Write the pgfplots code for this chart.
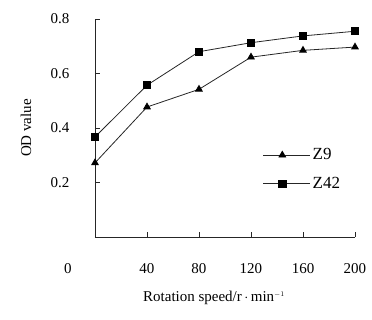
\documentclass[border=0pt]{standalone}
\usepackage{fontspec}
\setmainfont{Liberation Serif}
\usepackage{pgfplots}
\pgfplotsset{compat=1.18}
\begin{document}
\begin{tikzpicture}[font=\fontsize{15pt}{17pt}\selectfont]
\path[use as bounding box] (-95pt,-82pt) rectangle (277pt,237pt);
\begin{axis}[
  at={(0pt,0pt)}, anchor=origin,
  scale only axis, width=260pt, height=218pt,
  xmin=0, xmax=200, ymin=0, ymax=0.8,
  axis lines*=left,
  axis line style={black!85, line width=0.8pt},
  tick align=inside, major tick length=5pt,
  tick style={black!85, line width=0.7pt},
  xtick={40,80,120,160,200},
  extra x ticks={0}, extra x tick labels={0},
  extra x tick style={major tick length=0pt, xticklabel style={xshift=-27pt}},
  ytick={0.2,0.4,0.6,0.8},
  yticklabels={0.2,0.4,0.6,0.8},
  /pgf/number format/assume math mode=true,
  ticklabel style={font=\fontsize{15pt}{17pt}\selectfont},
  xticklabel style={yshift=-23pt},
  yticklabel style={xshift=-22pt},
  xlabel={Rotation speed/r\,$\cdot$\,min$^{\scriptscriptstyle -1}$},
  ylabel={OD value},
  xlabel style={at={(axis description cs:0.458,-0.28)}, anchor=center},
  ylabel style={at={(axis description cs:-0.265,0.5)}, anchor=center},
  legend style={draw=none, fill=none, at={(axis description cs:0.645,0.415)}, anchor=north west, row sep=12pt, inner sep=0pt, font=\fontsize{17pt}{19pt}\selectfont},
  legend cell align=left,
  legend image code/.code={\draw[#1, mark repeat=2, mark phase=2] plot coordinates {(0pt,0pt) (19pt,0pt) (38pt,0pt)}; \path (38pt,0pt) -- (47pt,0pt);},
  clip=false,
]
\addplot[black!85, line width=0.8pt, mark=triangle*, mark size=3.8pt, mark options={fill=black, draw=black}] coordinates {
  (0,0.272) (40,0.477) (80,0.542) (120,0.660) (160,0.685) (200,0.697)};
\addlegendentry{Z9}
\addplot[black!85, line width=0.8pt, mark=square*, mark size=3.6pt, mark options={fill=black, draw=black}] coordinates {
  (0,0.367) (40,0.557) (80,0.680) (120,0.713) (160,0.738) (200,0.755)};
\addlegendentry{Z42}
\end{axis}
\end{tikzpicture}
\end{document}
